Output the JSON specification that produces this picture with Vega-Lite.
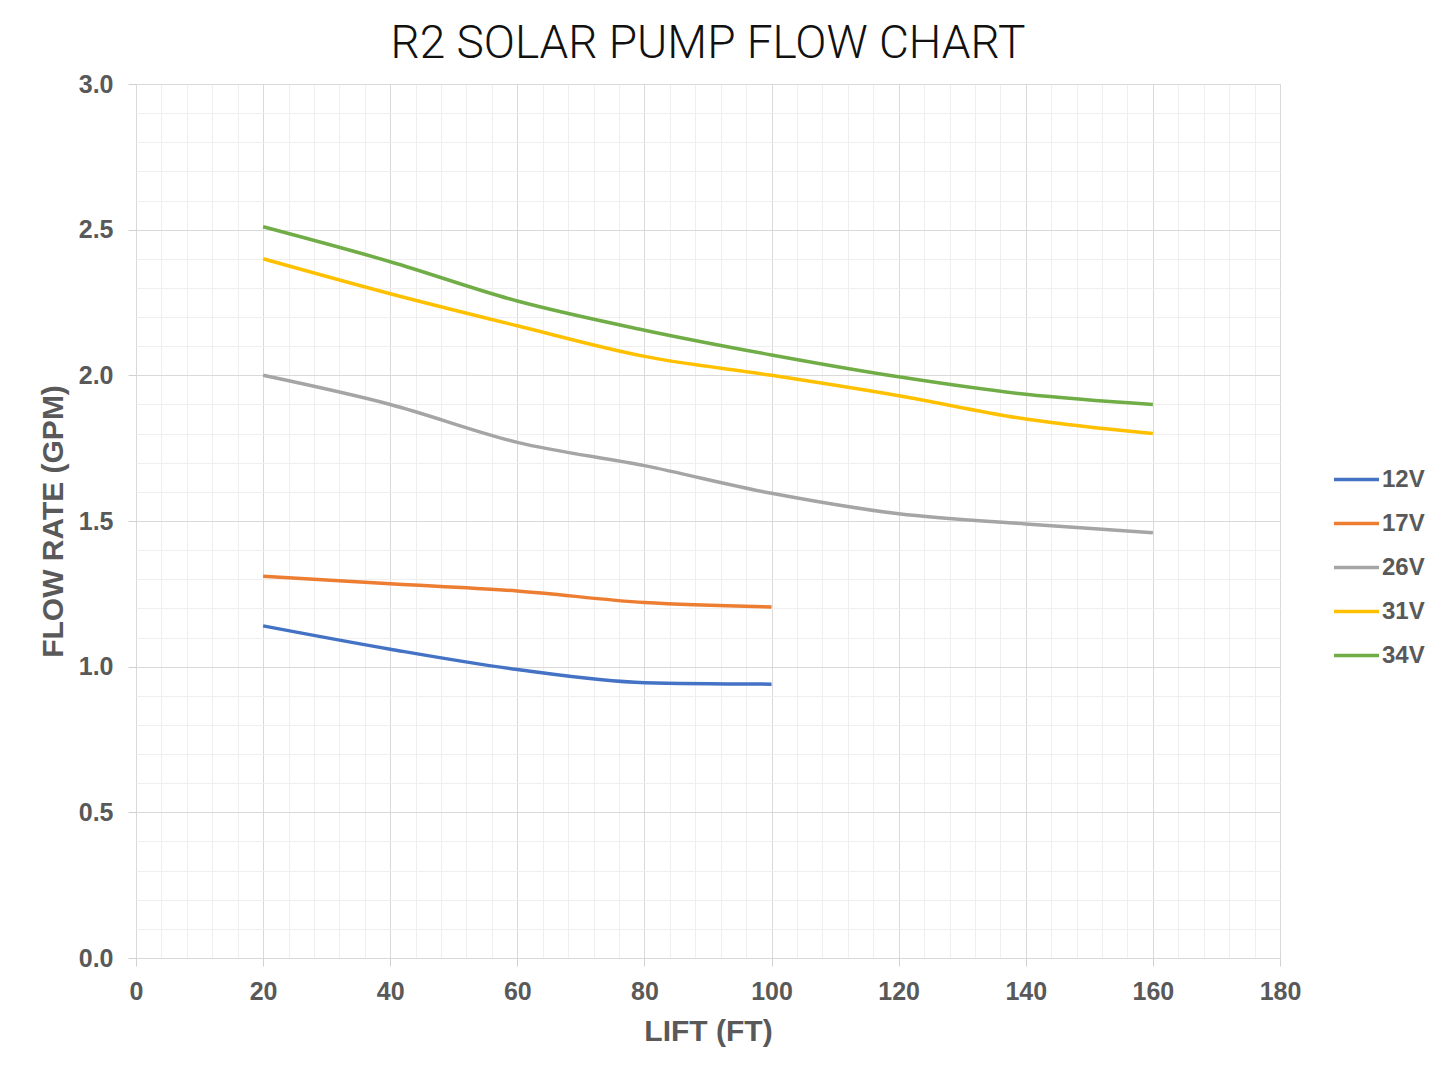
{
  "$schema": "https://vega.github.io/schema/vega-lite/v6.json",
  "autosize": {"type": "none"},
  "width": 1144,
  "height": 874,
  "padding": {"left": 136, "top": 84, "right": 168, "bottom": 113},
  "background": "white",
  "title": {
    "text": "R2 SOLAR PUMP FLOW CHART",
    "fontSize": 46,
    "fontWeight": 300,
    "font": "Roboto",
    "color": "#111111",
    "anchor": "middle",
    "offset": 4
  },
  "config": {
    "view": {"stroke": null},
    "axis": {
      "labelFont": "Liberation Sans",
      "titleFont": "Liberation Sans",
      "labelColor": "#595959",
      "titleColor": "#595959",
      "labelFontWeight": "bold",
      "titleFontWeight": "bold",
      "labelFontSize": 25,
      "titleFontSize": 30
    }
  },
  "data": {
    "values": [
      {"lift": 20, "flow": 1.14, "series": "12V"},
      {"lift": 40, "flow": 1.06, "series": "12V"},
      {"lift": 60, "flow": 0.99, "series": "12V"},
      {"lift": 80, "flow": 0.945, "series": "12V"},
      {"lift": 100, "flow": 0.94, "series": "12V"},
      {"lift": 20, "flow": 1.31, "series": "17V"},
      {"lift": 40, "flow": 1.285, "series": "17V"},
      {"lift": 60, "flow": 1.26, "series": "17V"},
      {"lift": 80, "flow": 1.22, "series": "17V"},
      {"lift": 100, "flow": 1.205, "series": "17V"},
      {"lift": 20, "flow": 2.0, "series": "26V"},
      {"lift": 40, "flow": 1.9, "series": "26V"},
      {"lift": 60, "flow": 1.77, "series": "26V"},
      {"lift": 80, "flow": 1.69, "series": "26V"},
      {"lift": 100, "flow": 1.595, "series": "26V"},
      {"lift": 120, "flow": 1.525, "series": "26V"},
      {"lift": 140, "flow": 1.49, "series": "26V"},
      {"lift": 160, "flow": 1.46, "series": "26V"},
      {"lift": 20, "flow": 2.4, "series": "31V"},
      {"lift": 40, "flow": 2.28, "series": "31V"},
      {"lift": 60, "flow": 2.17, "series": "31V"},
      {"lift": 80, "flow": 2.065, "series": "31V"},
      {"lift": 100, "flow": 2.0, "series": "31V"},
      {"lift": 120, "flow": 1.93, "series": "31V"},
      {"lift": 140, "flow": 1.85, "series": "31V"},
      {"lift": 160, "flow": 1.8, "series": "31V"},
      {"lift": 20, "flow": 2.51, "series": "34V"},
      {"lift": 40, "flow": 2.39, "series": "34V"},
      {"lift": 60, "flow": 2.255, "series": "34V"},
      {"lift": 80, "flow": 2.155, "series": "34V"},
      {"lift": 100, "flow": 2.07, "series": "34V"},
      {"lift": 120, "flow": 1.995, "series": "34V"},
      {"lift": 140, "flow": 1.935, "series": "34V"},
      {"lift": 160, "flow": 1.9, "series": "34V"}
    ]
  },
  "resolve": {"axis": {"x": "independent", "y": "independent"}},
  "layer": [
    {
      "mark": {"type": "line", "opacity": 0},
      "encoding": {
        "x": {
          "field": "lift", "type": "quantitative",
          "scale": {"domain": [0, 180], "nice": false},
          "axis": {
            "orient": "bottom",
            "values": [4, 8, 12, 16, 24, 28, 32, 36, 44, 48, 52, 56, 64, 68, 72, 76, 84, 88, 92, 96, 104, 108, 112, 116, 124, 128, 132, 136, 144, 148, 152, 156, 164, 168, 172, 176],
            "labels": false, "ticks": false, "domain": false, "title": null,
            "grid": true, "gridColor": "#efefef", "gridWidth": 1
          }
        },
        "y": {
          "field": "flow", "type": "quantitative",
          "scale": {"domain": [0, 3], "nice": false},
          "axis": {
            "orient": "left",
            "values": [0.1, 0.2, 0.3, 0.4, 0.6, 0.7, 0.8, 0.9, 1.1, 1.2, 1.3, 1.4, 1.6, 1.7, 1.8, 1.9, 2.1, 2.2, 2.3, 2.4, 2.6, 2.7, 2.8, 2.9],
            "labels": false, "ticks": false, "domain": false, "title": null,
            "grid": true, "gridColor": "#efefef", "gridWidth": 1
          }
        },
        "detail": {"field": "series"}
      }
    },
    {
      "mark": {"type": "line", "interpolate": "monotone", "strokeWidth": 3.5},
      "encoding": {
        "x": {
          "field": "lift", "type": "quantitative",
          "scale": {"domain": [0, 180], "nice": false},
          "axis": {
            "orient": "bottom",
            "values": [0, 20, 40, 60, 80, 100, 120, 140, 160, 180],
            "title": "LIFT (FT)",
            "grid": true, "gridColor": "#d9d9d9",
            "domain": false, "tickColor": "#d0d0d0", "tickSize": 8,
            "labelFlush": false,
            "labelPadding": 13, "titlePadding": 12
          }
        },
        "y": {
          "field": "flow", "type": "quantitative",
          "scale": {"domain": [0, 3], "nice": false},
          "axis": {
            "orient": "left",
            "values": [0, 0.5, 1, 1.5, 2, 2.5, 3],
            "format": ".1f",
            "title": "FLOW RATE (GPM)",
            "grid": true, "gridColor": "#d9d9d9",
            "domain": false, "tickColor": "#d0d0d0", "tickSize": 8,
            "labelFlush": false,
            "labelPadding": 15, "titlePadding": 10
          }
        },
        "color": {
          "field": "series", "type": "nominal",
          "scale": {
            "domain": ["12V", "17V", "26V", "31V", "34V"],
            "range": ["#4472C4", "#ED7D31", "#A5A5A5", "#FFC000", "#70AD47"]
          },
          "legend": {
            "orient": "none",
            "legendX": 1196,
            "legendY": 371,
            "title": null,
            "symbolType": "stroke",
            "symbolSize": 2025,
            "symbolStrokeWidth": 3.5,
            "labelFont": "Liberation Sans",
            "labelFontWeight": "bold",
            "labelFontSize": 24,
            "labelColor": "#595959",
            "labelOffset": 1,
            "rowPadding": 7
          }
        }
      }
    }
  ]
}
